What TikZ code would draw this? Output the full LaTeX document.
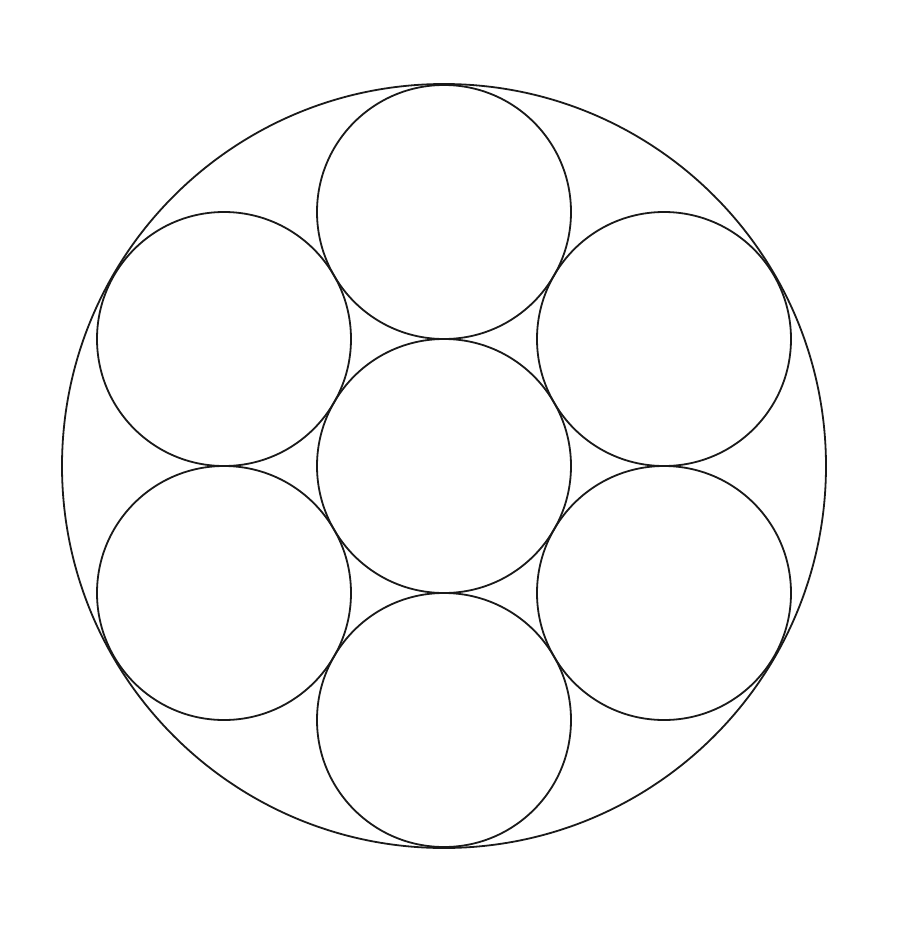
\documentclass[tikz,border=0pt]{standalone}
\begin{document}
\begin{tikzpicture}[x=1pt,y=-1pt,
  ring/.style={circle,draw=black!90,line width=1.8pt,inner sep=0pt,outer sep=0pt,minimum size=#1}]
\useasboundingbox (0,0) rectangle (898,927);
\node[ring=764pt] (outer) at (444,466) {};
\node[ring=254pt] (c) at (444,466) {};
\node[ring=254pt] (t) at (444,212) {};
\node[ring=254pt] (b) at (444,720) {};
\node[ring=254pt] (tl) at (224,339) {};
\node[ring=254pt] (tr) at (664,339) {};
\node[ring=254pt] (bl) at (224,593) {};
\node[ring=254pt] (br) at (664,593) {};
\end{tikzpicture}
\end{document}
